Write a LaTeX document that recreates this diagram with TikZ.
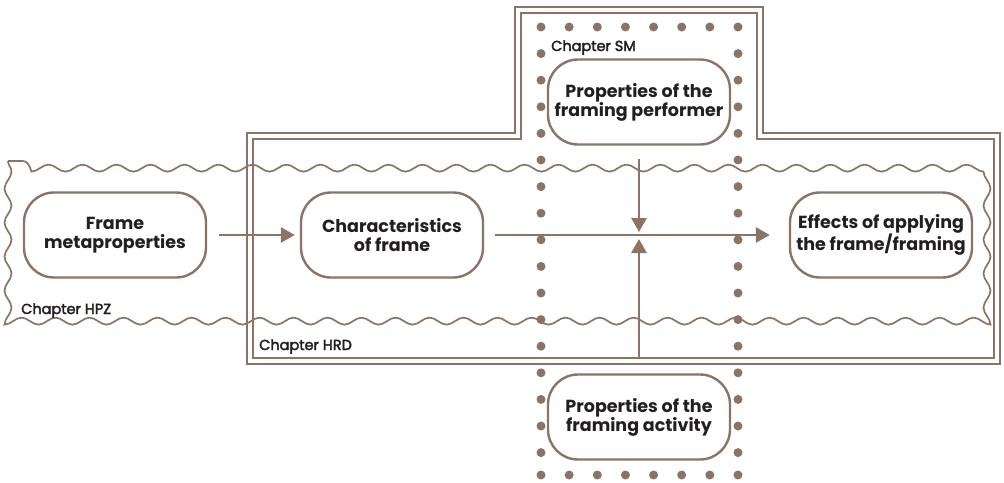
\documentclass[tikz,border=0pt]{standalone}
\usepackage{fontspec}
\setmainfont{Poppins}
\newfontfamily\chapfont[FakeBold=2.5]{Poppins}
\usetikzlibrary{arrows.meta,decorations.pathmorphing}
\definecolor{framebrown}{RGB}{139,116,101}
\definecolor{inkdark}{RGB}{35,31,32}

\begin{document}
\begin{tikzpicture}[x=1pt,y=-1pt,
  procbox/.style={draw=framebrown,line width=2.4pt,rounded corners=30pt,minimum width=182pt,minimum height=85pt,
    align=center,text=inkdark,fill=white,font=\bfseries\fontsize{17.5}{19}\selectfont},
  chaplabel/.style={anchor=base west,inner sep=0pt,text=inkdark,font=\chapfont\fontsize{14.5}{16}\selectfont},
  flow/.style={draw=framebrown,line width=2.8pt,-{Triangle[length=14pt,width=15pt]}}]
    \useasboundingbox (0,0) rectangle (1004,482);
    % Chapter HRD, double outline with the tab on top
    \draw[framebrown,line width=2pt,double=white,double distance=4pt]
      (250,136) -- (518,136) -- (518,10) -- (759.5,10) -- (759.5,136) -- (997,136) -- (997,361) -- (250,361) -- cycle;
    % Chapter HPZ, wavy outline
    \draw[framebrown,line width=1.7pt,decorate,decoration={snake,segment length=34pt,amplitude=3.5pt}]
      (8,161) rectangle (987,322);

    \node[procbox] (meta) at (115,235) {Frame\\metaproperties};
    \node[procbox] (chars) at (392,235) {Characteristics\\of frame};
    \node[procbox] (perf) at (639,102) {Properties of the\\framing performer};
    \node[procbox] (effects) at (881,235) {Effects of applying\\the frame/framing};
    \node[procbox] (activity) at (639,417) {Properties of the\\framing activity};

    \node[chaplabel] (smlabel) at (551,51) {Chapter SM};
    \node[chaplabel] (hpzlabel) at (21,314) {Chapter HPZ};
    \node[chaplabel] (hrdlabel) at (259,350) {Chapter HRD};

    \coordinate (junction) at (639,235);
    \draw[flow,shorten <=12pt,shorten >=5pt] (meta.east) -- (chars.west);
    \draw[flow,shorten <=11pt,shorten >=19pt] (chars.east) -- (effects.west);
    \draw[flow,shorten <=13.5pt,shorten >=3pt] (perf.south) -- (junction);
    \draw[flow,shorten <=16.5pt,shorten >=4pt] (activity.north) -- (junction);

    % Chapter SM, dotted outline
    \foreach \i in {0,...,7}{
      \fill[framebrown] (541+\i*28.14,27) circle (4.5pt);
      \fill[framebrown] (541+\i*28.14,475) circle (4.5pt);}
    \foreach \j in {1,...,16}{
      \fill[framebrown] (541,27+\j*26.6) circle (4.5pt);
      \fill[framebrown] (738,27+\j*26.6) circle (4.5pt);}
\end{tikzpicture}
\end{document}
